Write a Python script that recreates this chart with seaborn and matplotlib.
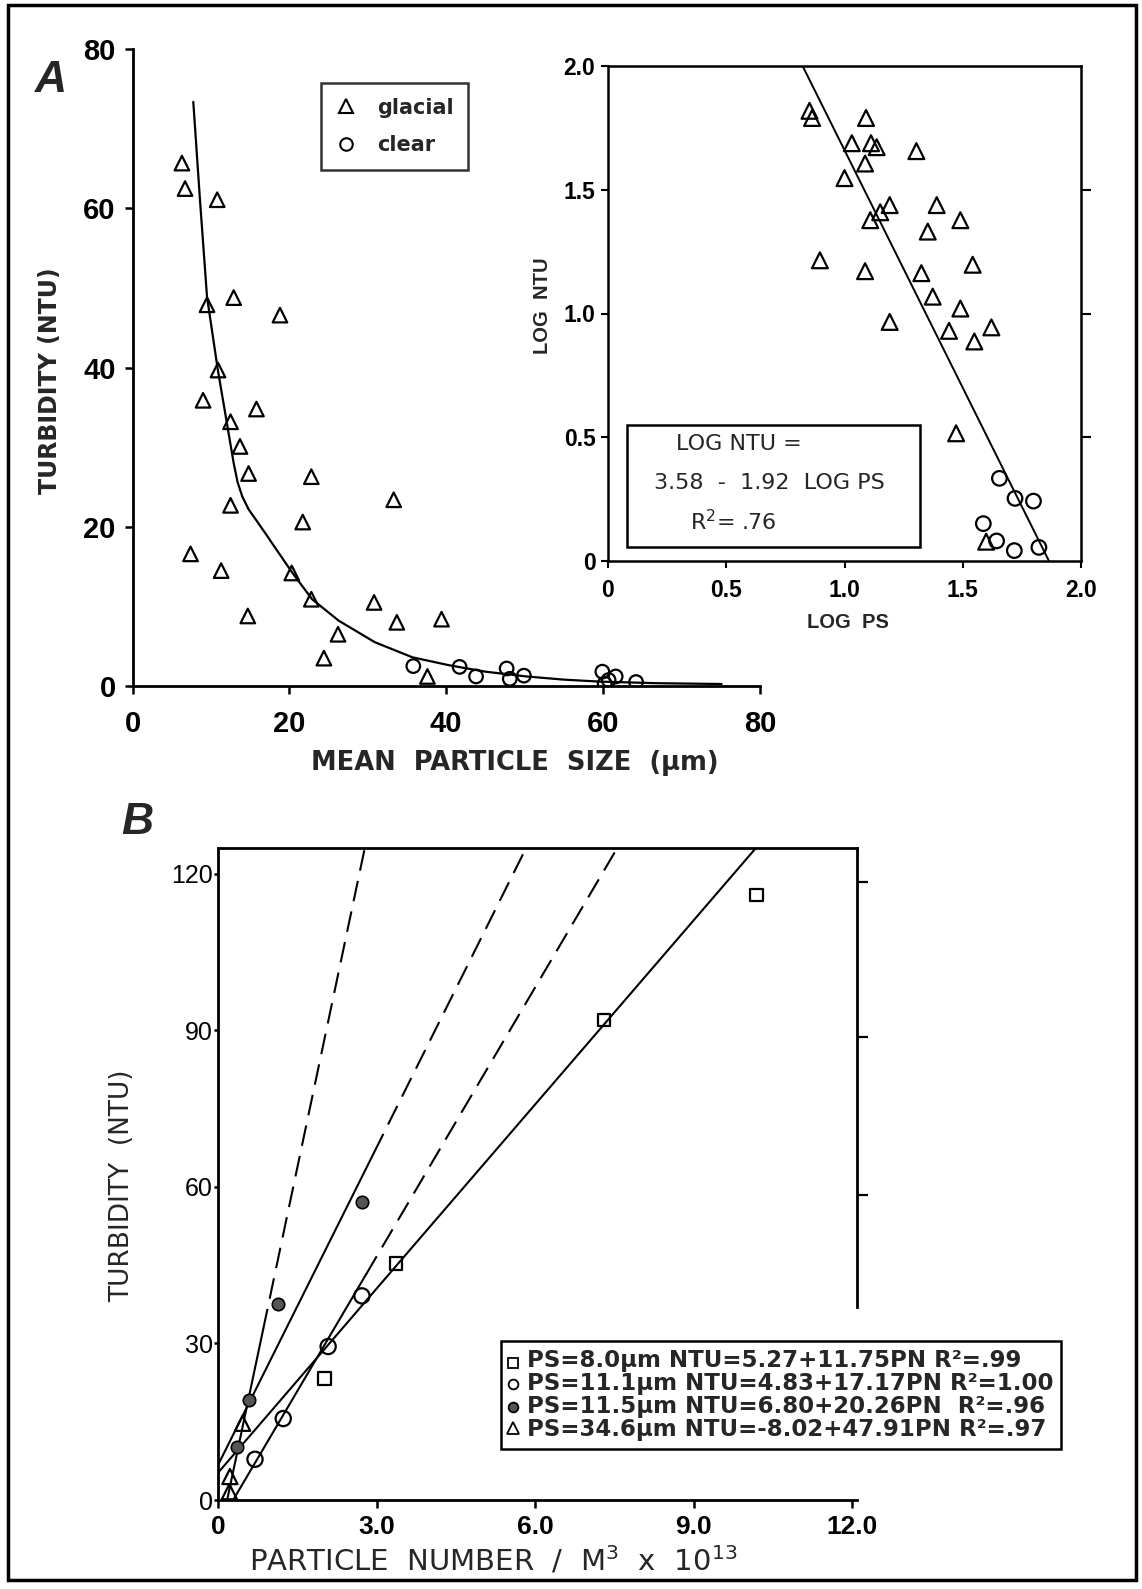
import matplotlib
matplotlib.use("Agg")
import matplotlib.pyplot as plt
import seaborn as sns
from matplotlib.lines import Line2D
from matplotlib.patches import Rectangle

# ---------------- Panel A: turbidity vs mean particle size ----------------
glacial_ps = [6.3, 6.7, 10.8, 9.5, 12.9, 18.8, 10.9, 9.0, 15.8, 12.5, 13.7, 14.8,
              22.8, 33.3, 12.5, 21.7, 7.4, 11.3, 20.3, 22.8, 30.8, 33.7, 39.4,
              14.7, 26.2, 24.4, 37.6]
glacial_ntu = [65.7, 62.5, 61.1, 47.9, 48.8, 46.6, 39.7, 35.9, 34.8, 33.2, 30.1, 26.7,
               26.3, 23.4, 22.7, 20.6, 16.6, 14.5, 14.2, 10.9, 10.5, 8.0, 8.4,
               8.8, 6.5, 3.5, 1.2]
clear_ps = [35.8, 41.7, 43.8, 47.7, 48.1, 49.9, 59.9, 60.2, 60.7, 61.6, 64.2]
clear_ntu = [2.5, 2.4, 1.2, 2.2, 0.9, 1.3, 1.8, 0.3, 0.75, 1.2, 0.5]

# fitted curve
curve_ps = [7.75, 8.6, 9.5, 10.85, 12.4, 12.9, 13.4, 14.0, 14.8, 15.8, 17.0, 18.1,
            20.4, 22.9, 26.3, 30.9, 35.7, 40.4, 45.0, 50.2, 55.0, 59.6, 67.0, 75.1]
curve_ntu = [73.4, 61.1, 48.9, 39.9, 30.9, 28.0, 25.6, 23.8, 22.2, 20.8, 19.1, 17.5,
             14.2, 10.9, 8.2, 5.5, 3.6, 2.6, 1.8, 1.2, 0.8, 0.55, 0.35, 0.25]

# ---------------- Inset: log-log form ----------------
log_glacial_ps = [0.852, 0.863, 1.091, 1.031, 1.112, 1.136, 1.304, 1.087, 1.000,
                  1.191, 1.390, 1.151, 1.109, 1.490, 1.352, 0.896, 1.087, 1.325,
                  1.542, 1.373, 1.490, 1.191, 1.442, 1.621, 1.549, 1.472, 1.599]
log_glacial_ntu = [1.819, 1.790, 1.790, 1.688, 1.688, 1.672, 1.656, 1.606, 1.547,
                   1.438, 1.438, 1.409, 1.377, 1.377, 1.331, 1.215, 1.171, 1.163,
                   1.197, 1.068, 1.020, 0.966, 0.930, 0.944, 0.887, 0.516, 0.078]
log_clear_ps = [1.655, 1.721, 1.799, 1.587, 1.643, 1.718, 1.822]
log_clear_ntu = [0.334, 0.253, 0.242, 0.151, 0.081, 0.042, 0.055]
log_fit_intercept = 3.58
log_fit_slope = -1.92

# ---------------- Panel B: turbidity vs particle number ----------------
pn_ps80 = [2.01, 3.37, 7.30, 10.19]
ntu_ps80 = [23.3, 45.3, 92.0, 115.9]
pn_ps111 = [0.695, 1.23, 2.08, 2.72]
ntu_ps111 = [7.8, 15.6, 29.4, 39.1]
pn_ps115 = [0.35, 0.59, 1.14, 2.72]
ntu_ps115 = [10.2, 19.1, 37.5, 57.1]
pn_ps346 = [0.21, 0.22, 0.46]
ntu_ps346 = [1.6, 4.5, 14.7]

fit_intercepts = [5.27, -4.83, 6.80, -8.02]
fit_slopes = [11.75, 17.17, 20.26, 47.91]
fit_solid_end = [12.0, 2.8, 2.95, 0.85]
legend_b_labels = ["PS=8.0\u00b5m NTU=5.27+11.75PN R\u00b2=.99",
                   "PS=11.1\u00b5m NTU=4.83+17.17PN R\u00b2=1.00",
                   "PS=11.5\u00b5m NTU=6.80+20.26PN  R\u00b2=.96",
                   "PS=34.6\u00b5m NTU=-8.02+47.91PN R\u00b2=.97"]

sns.set_theme(style="white")
plt.rcParams['font.family'] = ['Liberation Sans', 'DejaVu Sans']
plt.rcParams['mathtext.fontset'] = 'custom'
plt.rcParams['mathtext.rm'] = 'DejaVu Sans'
plt.rcParams['mathtext.bf'] = 'DejaVu Sans:bold'
plt.rcParams['mathtext.default'] = 'regular'
plt.rcParams['axes.linewidth'] = 2.0

W, H = 1142, 1589
fig = plt.figure(figsize=(W / 100, H / 100), dpi=100)
fig.patch.set_facecolor('white')


def frac(left, top, right, bottom):
    return [left / W, 1 - bottom / H, (right - left) / W, (bottom - top) / H]


def fx(px):
    return px / W


def fy(py):
    return 1 - py / H


open_kw = dict(facecolor='none', edgecolor='black', linewidth=1.6)

# ---------- Panel A main ----------
axA = fig.add_axes(frac(132.5, 49.3, 760, 686))
axA.set_facecolor('none')
sns.scatterplot(x=glacial_ps, y=glacial_ntu, marker='^', s=110, ax=axA, **open_kw)
sns.scatterplot(x=clear_ps, y=clear_ntu, marker='o', s=95, ax=axA, **open_kw)
sns.lineplot(x=curve_ps, y=curve_ntu, sort=False, color='black', lw=1.6, ax=axA)
axA.set_xlim(0, 80)
axA.set_ylim(0, 80)
axA.set_xticks([0, 20, 40, 60, 80])
axA.set_yticks([0, 20, 40, 60, 80])
axA.set_xticklabels(['0', '20', '40', '60', '80'])
axA.set_yticklabels(['0', '20', '40', '60', '80'])
for s in ['top', 'right']:
    axA.spines[s].set_visible(False)
for s in ['left', 'bottom']:
    axA.spines[s].set_color('black')
axA.tick_params(direction='out', length=6, width=1.8, colors='black',
                labelsize=21, left=True, bottom=True)
axA.tick_params(axis='x', pad=11)
axA.tick_params(axis='y', pad=6)
for lab in axA.get_xticklabels() + axA.get_yticklabels():
    lab.set_fontweight('bold')
axA.set_xlabel('MEAN  PARTICLE  SIZE  (\u00b5m)', fontsize=18.5, fontweight='bold',
               family='DejaVu Sans')
axA.set_ylabel('TURBIDITY (NTU)', fontsize=17, fontweight='bold', family='DejaVu Sans')
axA.xaxis.set_label_coords(0.61, -0.1)
axA.yaxis.set_label_coords(-0.112, 0.48)
handles_a = [Line2D([], [], marker='^', ls='', mfc='none', mec='black', mew=1.5, ms=10),
             Line2D([], [], marker='o', ls='', mfc='none', mec='black', mew=1.5, ms=9)]
legA = axA.legend(handles_a, ['glacial', 'clear'], loc='upper left',
                  bbox_to_anchor=(0.300, 0.947), borderaxespad=0, frameon=True,
                  fancybox=False, edgecolor='black',
                  prop={'size': 15, 'weight': 'bold', 'family': 'DejaVu Sans'},
                  handletextpad=1.0, borderpad=0.7, labelspacing=0.85, handlelength=1.0)
legA.get_frame().set_linewidth(1.8)

# ---------- Inset ----------
axI = fig.add_axes(frac(608, 66, 1081, 561))
axI.set_facecolor('white')
sns.scatterplot(x=log_glacial_ps, y=log_glacial_ntu, marker='^', s=130, ax=axI, **open_kw)
sns.scatterplot(x=log_clear_ps, y=log_clear_ntu, marker='o', s=110, ax=axI, **open_kw)
x_hi = (2.0 - log_fit_intercept) / log_fit_slope
x_lo = (0.0 - log_fit_intercept) / log_fit_slope
sns.lineplot(x=[x_hi, x_lo],
             y=[log_fit_intercept + log_fit_slope * x_hi, log_fit_intercept + log_fit_slope * x_lo],
             color='black', lw=1.4, ax=axI)
axI.set_xlim(0, 2.0)
axI.set_ylim(0, 2.0)
axI.set_xticks([0, 0.5, 1.0, 1.5, 2.0])
axI.set_xticklabels(['0', '0.5', '1.0', '1.5', '2.0'])
axI.set_yticks([0, 0.5, 1.0, 1.5, 2.0])
axI.set_yticklabels(['0', '0.5', '1.0', '1.5', '2.0'])
for s in axI.spines.values():
    s.set_color('black')
    s.set_linewidth(1.8)
axI.tick_params(direction='out', length=5, width=1.5, colors='black',
                labelsize=16.5, left=True, bottom=True)
axI.tick_params(axis='x', pad=8)
axI.tick_params(axis='y', pad=4)
for lab in axI.get_xticklabels() + axI.get_yticklabels():
    lab.set_fontweight('bold')
axIr = axI.twinx()
axIr.set_ylim(0, 2.0)
axIr.set_yticks([0.5, 1.0, 1.5])
axIr.set_yticklabels([])
axIr.tick_params(direction='out', length=7, width=1.5, colors='black', right=True)
for s in axIr.spines.values():
    s.set_visible(False)
axI.set_xlabel('LOG  PS', fontsize=14.5, fontweight='bold')
axI.set_ylabel('LOG  NTU', fontsize=14.5, fontweight='bold')
axI.xaxis.set_label_coords(0.507, -0.105)
axI.yaxis.set_label_coords(-0.118, 0.515)
axI.add_patch(Rectangle((0.040, 0.028), 0.62, 0.247, transform=axI.transAxes,
                        fill=False, edgecolor='black', lw=1.8, zorder=5))
eq_kw = dict(transform=axI.transAxes, fontsize=16, ha='center', va='center', zorder=6,
             family='DejaVu Sans')
axI.text(0.277, 0.236, 'LOG NTU =', **eq_kw)
axI.text(0.342, 0.158, '3.58  -  1.92  LOG PS', **eq_kw)
axI.text(0.264, 0.079, 'R$^2$= .76', **eq_kw)

# ---------- Panel B ----------
y_topB = 124.9
axB = fig.add_axes(frac(218.3, 848, 856.7, 1500))
sns.scatterplot(x=pn_ps80, y=ntu_ps80, marker='s', s=80, ax=axB, zorder=4, **open_kw)
sns.scatterplot(x=pn_ps111, y=ntu_ps111, marker='o', s=120, ax=axB, zorder=4, **open_kw)
sns.scatterplot(x=pn_ps115, y=ntu_ps115, marker='o', s=80, ax=axB, zorder=4,
                facecolor='#555555', edgecolor='black', linewidth=1.2)
sns.scatterplot(x=pn_ps346, y=ntu_ps346, marker='^', s=120, ax=axB, zorder=4, **open_kw)
for b, m, x_end in zip(fit_intercepts, fit_slopes, fit_solid_end):
    x0 = max(0.0, -b / m)
    x_top = (y_topB - b) / m
    xs_solid = [x0, min(x_end, x_top)]
    sns.lineplot(x=xs_solid, y=[b + m * v for v in xs_solid], color='black', lw=1.5, ax=axB)
    if x_end < x_top:
        xs_dash = [x_end, x_top]
        sns.lineplot(x=xs_dash, y=[b + m * v for v in xs_dash], color='black', lw=1.5,
                     linestyle=(0, (10, 5)), ax=axB)
axB.set_xlim(0, 12.09)
axB.set_ylim(0, y_topB)
axB.set_xticks([0, 3, 6, 9, 12])
axB.set_xticklabels(['0', '3.0', '6.0', '9.0', '12.0'])
axB.set_yticks([0, 30, 60, 90, 120])
axB.set_yticklabels(['0', '30', '60', '90', '120'])
for s in axB.spines.values():
    s.set_color('black')
    s.set_linewidth(2.0)
axB.spines['right'].set_bounds(37, y_topB)
axB.tick_params(direction='out', width=1.8, colors='black', left=True, bottom=True)
axB.tick_params(axis='x', labelsize=19, pad=5, length=6)
axB.tick_params(axis='y', labelsize=18, pad=1, length=3)
for lab in axB.get_xticklabels():
    lab.set_fontweight('bold')
axBr = axB.twinx()
axBr.set_ylim(0, y_topB)
axBr.set_yticks([118.4, 88.6, 58.5])
axBr.set_yticklabels([])
axBr.tick_params(direction='out', length=8, width=1.6, colors='black', right=True)
for s in axBr.spines.values():
    s.set_visible(False)
axB.set_xlabel('PARTICLE  NUMBER  /  M$^3$  x  10$^{13}$', fontsize=21,
               family='DejaVu Sans')
axB.set_ylabel('TURBIDITY  (NTU)', fontsize=19, family='DejaVu Sans')
axB.xaxis.set_label_coords(0.43, -0.068)
axB.yaxis.set_label_coords(-0.13, 0.482)

# legend of panel B: framed box, marker column and one block of text rows
fig.add_artist(Rectangle((fx(500.6), fy(1449)), fx(1061) - fx(500.6), fy(1340.6) - fy(1449),
                         transform=fig.transFigure, fill=False, edgecolor='black', lw=1.8))
row_y = [1363, 1384.3, 1406.6, 1427.8]
row_marker = [dict(marker='s', mfc='none', ms=7), dict(marker='o', mfc='none', ms=7),
              dict(marker='o', mfc='#555555', ms=7), dict(marker='^', mfc='none', ms=8)]
for ry, mk in zip(row_y, row_marker):
    fig.add_artist(Line2D([fx(512.7)], [fy(ry)], ls='', mec='black', mew=1.3,
                          transform=fig.transFigure, **mk))
fig.text(fx(527), fy(sum(row_y) / len(row_y)), "\n".join(legend_b_labels), fontsize=16.5,
         fontweight='bold', family='DejaVu Sans', ha='left', va='center', linespacing=1.0)

# panel letters
fig.text(fx(51), fy(81), 'A', fontsize=32, fontweight='bold', fontstyle='italic',
         ha='center', va='center')
fig.text(fx(137), fy(823), 'B', fontsize=32, fontweight='bold', fontstyle='italic',
         ha='center', va='center')

# page border
fig.add_artist(Rectangle((fx(8), fy(1580)), fx(1136) - fx(8), fy(5) - fy(1580),
                         transform=fig.transFigure, fill=False, edgecolor='black', lw=2.5))

fig.savefig('out.png', dpi=100, facecolor='white')
